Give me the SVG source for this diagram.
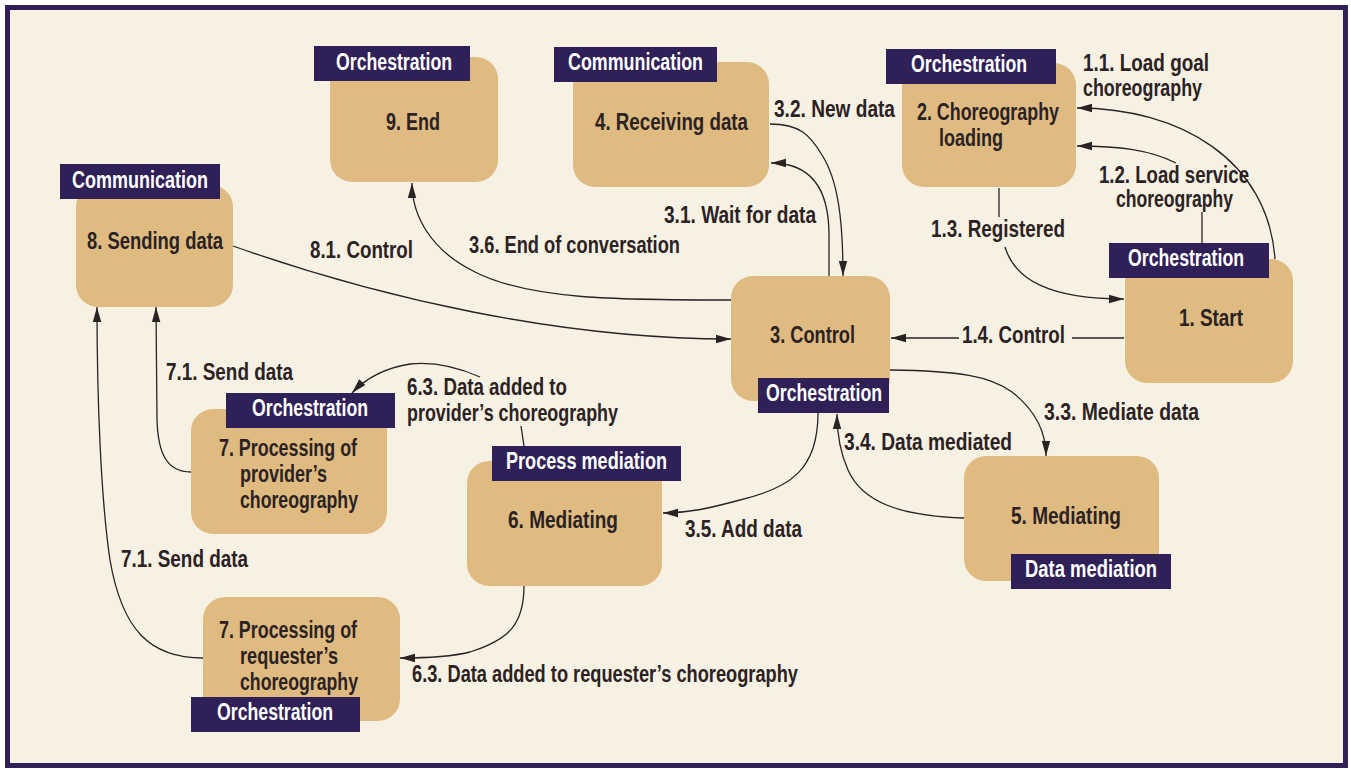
<svg xmlns="http://www.w3.org/2000/svg" width="1351" height="769" viewBox="0 0 1351 769">
<defs>
<style>
.box{fill:#dfbb81}
.tag{fill:#302058}
.t{font-family:"Liberation Sans Narrow","Liberation Sans",Arial,sans-serif;font-weight:bold;font-size:23.5px;fill:#2b2223}
.w{font-family:"Liberation Sans Narrow","Liberation Sans",Arial,sans-serif;font-weight:bold;font-size:23.5px;fill:#ffffff}
.c{fill:none;stroke:#2b2223;stroke-width:1.3}
.a{marker-end:url(#arr)}
</style>
<marker id="arr" markerUnits="userSpaceOnUse" markerWidth="16" markerHeight="10" refX="15" refY="5" orient="auto">
<path d="M0,0.8 L15,5 L0,9.2 z" fill="#2b2223"/>
</marker>
</defs>
<rect x="0" y="0" width="1351" height="769" fill="#ffffff"/>
<rect x="7.5" y="7.5" width="1338" height="758" fill="#f7f1e3" stroke="#302058" stroke-width="5"/>

<g id="connectors">
<path class="c a" d="M1275,259 C1268,160 1180,108 1077,108"/>
<path class="c" d="M1202,243 L1202,212"/>
<path class="c a" d="M1176,163 C1150,150 1120,146 1077,146"/>
<path class="c" d="M999,188 L999,217"/>
<path class="c a" d="M1005,247 C1015,280 1050,299 1124,299"/>
<path class="c" d="M1124,338 L1072,338"/>
<path class="c a" d="M959,338 L891,338"/>
<path class="c a" d="M770,124 C800,124 810,135 822,155 C838,180 843,220 843,276"/>
<path class="c a" d="M829,276 L829,235 C829,195 815,163 771,163"/>
<path class="c a" d="M731,300 C620,300 530,300 475,272 C430,250 412,215 412,183"/>
<path class="c a" d="M233,246 C380,298 560,339 731,339"/>
<path class="c a" d="M890,370 C960,371 990,376 1012,392 C1035,410 1046,432 1046,456"/>
<path class="c a" d="M964,518 C900,516 862,502 848,470 C840,452 837,432 837,414"/>
<path class="c a" d="M818,413 C818,470 790,488 740,500 C710,508 690,513 663,513"/>
<path class="c" d="M524,446 L521,426"/>
<path class="c a" d="M480,377 C455,366 430,362 410,364 C385,368 366,378 352,393"/>
<path class="c a" d="M524,586 C524,625 508,640 470,652 C450,657 425,658 400,658"/>
<path class="c a" d="M191,472 C166,472 158,452 157,420 L156,307"/>
<path class="c a" d="M203,658 C150,658 122,630 110,560 C101,500 97,400 97,307"/>
</g>

<g id="edge-labels">
<text class="t" x="1083" y="71" textLength="126" lengthAdjust="spacingAndGlyphs">1.1. Load goal</text>
<text class="t" x="1083" y="96" textLength="119" lengthAdjust="spacingAndGlyphs">choreography</text>
<text class="t" x="1099" y="183" textLength="150" lengthAdjust="spacingAndGlyphs">1.2. Load service</text>
<text class="t" x="1116" y="207" textLength="117" lengthAdjust="spacingAndGlyphs">choreography</text>
<text class="t" x="931" y="237" textLength="134" lengthAdjust="spacingAndGlyphs">1.3. Registered</text>
<text class="t" x="962" y="343" textLength="103" lengthAdjust="spacingAndGlyphs">1.4. Control</text>
<text class="t" x="774" y="117" textLength="121" lengthAdjust="spacingAndGlyphs">3.2. New data</text>
<text class="t" x="664" y="223" textLength="152" lengthAdjust="spacingAndGlyphs">3.1. Wait for data</text>
<text class="t" x="469" y="253" textLength="211" lengthAdjust="spacingAndGlyphs">3.6. End of conversation</text>
<text class="t" x="310" y="258" textLength="103" lengthAdjust="spacingAndGlyphs">8.1. Control</text>
<text class="t" x="1044" y="420" textLength="155" lengthAdjust="spacingAndGlyphs">3.3. Mediate data</text>
<text class="t" x="844" y="450" textLength="168" lengthAdjust="spacingAndGlyphs">3.4. Data mediated</text>
<text class="t" x="685" y="537" textLength="117" lengthAdjust="spacingAndGlyphs">3.5. Add data</text>
<text class="t" x="407" y="395" textLength="160" lengthAdjust="spacingAndGlyphs">6.3. Data added to</text>
<text class="t" x="407" y="421" textLength="211" lengthAdjust="spacingAndGlyphs">provider’s choreography</text>
<text class="t" x="412" y="682" textLength="386" lengthAdjust="spacingAndGlyphs">6.3. Data added to requester’s choreography</text>
<text class="t" x="166" y="380" textLength="127" lengthAdjust="spacingAndGlyphs">7.1. Send data</text>
<text class="t" x="121" y="567" textLength="127" lengthAdjust="spacingAndGlyphs">7.1. Send data</text>
</g>

<g id="node-9">
<rect class="box" x="330" y="57" width="168" height="125" rx="22"/>
<rect class="tag" x="314" y="46" width="156" height="35"/>
<text class="w" x="336" y="70" textLength="116" lengthAdjust="spacingAndGlyphs">Orchestration</text>
<text class="t" x="386" y="130" textLength="54" lengthAdjust="spacingAndGlyphs">9. End</text>
</g>
<g id="node-4">
<rect class="box" x="573" y="62" width="196" height="125" rx="22"/>
<rect class="tag" x="554" y="47" width="163" height="35"/>
<text class="w" x="568" y="70" textLength="135" lengthAdjust="spacingAndGlyphs">Communication</text>
<text class="t" x="595" y="130" textLength="153" lengthAdjust="spacingAndGlyphs">4. Receiving data</text>
</g>
<g id="node-2">
<rect class="box" x="902" y="63" width="174" height="124" rx="22"/>
<rect class="tag" x="886" y="49" width="170" height="35"/>
<text class="w" x="911" y="72" textLength="116" lengthAdjust="spacingAndGlyphs">Orchestration</text>
<text class="t" x="917" y="120" textLength="142" lengthAdjust="spacingAndGlyphs">2. Choreography</text>
<text class="t" x="939" y="146" textLength="64" lengthAdjust="spacingAndGlyphs">loading</text>
</g>
<g id="node-8">
<rect class="box" x="76" y="185" width="157" height="122" rx="22"/>
<rect class="tag" x="60" y="164" width="160" height="35"/>
<text class="w" x="72" y="188" textLength="136" lengthAdjust="spacingAndGlyphs">Communication</text>
<text class="t" x="87" y="249" textLength="136" lengthAdjust="spacingAndGlyphs">8. Sending data</text>
</g>
<g id="node-1">
<rect class="box" x="1125" y="259" width="168" height="124" rx="22"/>
<rect class="tag" x="1109" y="243" width="160" height="35"/>
<text class="w" x="1128" y="266" textLength="116" lengthAdjust="spacingAndGlyphs">Orchestration</text>
<text class="t" x="1179" y="326" textLength="64" lengthAdjust="spacingAndGlyphs">1. Start</text>
</g>
<g id="node-3">
<rect class="box" x="731" y="276" width="159" height="125" rx="22"/>
<rect class="tag" x="758" y="378" width="131" height="35"/>
<text class="w" x="766" y="401" textLength="116" lengthAdjust="spacingAndGlyphs">Orchestration</text>
<text class="t" x="770" y="343" textLength="85" lengthAdjust="spacingAndGlyphs">3. Control</text>
</g>
<g id="node-7p">
<rect class="box" x="191" y="409" width="196" height="125" rx="22"/>
<rect class="tag" x="226" y="393" width="169" height="35"/>
<text class="w" x="252" y="416" textLength="116" lengthAdjust="spacingAndGlyphs">Orchestration</text>
<text class="t" x="219" y="456" textLength="138" lengthAdjust="spacingAndGlyphs">7. Processing of</text>
<text class="t" x="240" y="482" textLength="87" lengthAdjust="spacingAndGlyphs">provider’s</text>
<text class="t" x="240" y="508" textLength="118" lengthAdjust="spacingAndGlyphs">choreography</text>
</g>
<g id="node-6">
<rect class="box" x="467" y="461" width="195" height="125" rx="22"/>
<rect class="tag" x="492" y="446" width="189" height="35"/>
<text class="w" x="506" y="469" textLength="161" lengthAdjust="spacingAndGlyphs">Process mediation</text>
<text class="t" x="508" y="528" textLength="110" lengthAdjust="spacingAndGlyphs">6. Mediating</text>
</g>
<g id="node-5">
<rect class="box" x="964" y="456" width="195" height="125" rx="22"/>
<rect class="tag" x="1011" y="554" width="160" height="35"/>
<text class="w" x="1025" y="577" textLength="132" lengthAdjust="spacingAndGlyphs">Data mediation</text>
<text class="t" x="1011" y="524" textLength="110" lengthAdjust="spacingAndGlyphs">5. Mediating</text>
</g>
<g id="node-7r">
<rect class="box" x="203" y="597" width="197" height="124" rx="22"/>
<rect class="tag" x="191" y="697" width="169" height="35"/>
<text class="w" x="217" y="720" textLength="116" lengthAdjust="spacingAndGlyphs">Orchestration</text>
<text class="t" x="219" y="638" textLength="138" lengthAdjust="spacingAndGlyphs">7. Processing of</text>
<text class="t" x="240" y="664" textLength="98" lengthAdjust="spacingAndGlyphs">requester’s</text>
<text class="t" x="240" y="690" textLength="118" lengthAdjust="spacingAndGlyphs">choreography</text>
</g>
</svg>
